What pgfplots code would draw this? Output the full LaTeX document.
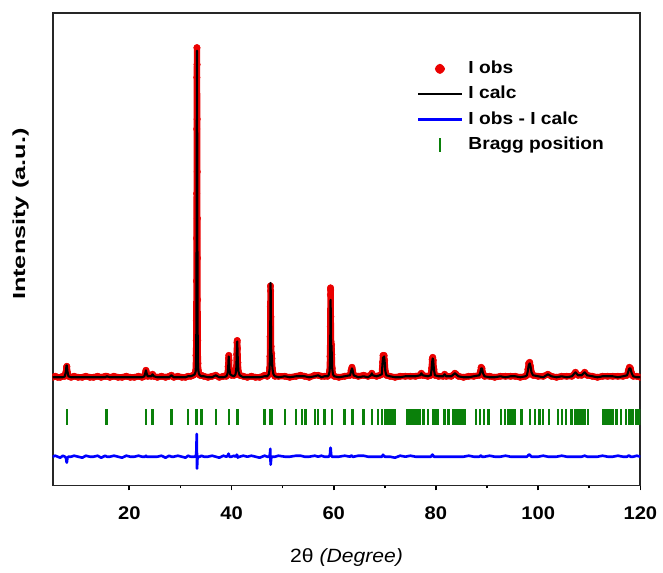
\documentclass[border=0pt]{standalone}
\usepackage{fontspec}
\setmainfont{Liberation Sans}[FakeStretch=1.1]
\newfontfamily\ylabfont{Liberation Sans}[FakeStretch=1.45]
\usepackage{pgfplots}
\usepackage{pgfplotstable}
\pgfplotsset{compat=1.18}
\definecolor{bragg}{RGB}{10,128,10}
\definecolor{obsred}{RGB}{235,0,0}

% 2theta, observed, calculated, difference (arbitrary units)
\pgfplotstableread{
x obs calc diff
5.0 109 109 29
5.5 110 109 30
6.0 109 109 29
6.5 109 109 28
7.0 110 109 30
7.4 110 110 29
7.6 114 115 28
7.72 119 121 24
7.78 120 121 23
7.9 114 115 28
8.1 110 110 29
8.6 109 109 29
9.2 110 109 30
10.0 109 109 29
10.8 109 109 28
11.5 110 109 30
12.3 109 109 29
13.0 109 109 29
13.8 110 109 30
14.5 109 109 28
15.3 110 109 30
15.6 110 110 29
16.2 109 109 29
17.0 110 109 30
17.8 109 109 29
18.6 109 109 28
19.4 110 109 30
20.2 109 109 29
21.0 109 109 29
21.8 110 109 30
22.5 109 109 29
22.95 110 110 29
23.12 113 113 29
23.26 116 116 30
23.4 113 113 29
23.6 110 110 29
24.3 110 110 29
24.55 112 112 29
24.8 110 110 29
25.5 109 109 29
26.3 110 109 30
27.1 109 109 28
27.8 110 109 30
28.25 111 111 29
28.7 109 109 29
29.5 110 109 30
30.3 109 109 29
31.0 109 109 28
31.5 110 110 30
32.0 110 110 29
32.5 111 111 29
32.8 112 112 29
33.00 116 115 30
33.06 131 129 31
33.10 146 142 33
33.12 166 160 35
33.14 206 196 39
33.16 249 234 44
33.18 294 276 47
33.20 359 339 52
33.22 411 402 40
33.24 441 438 32
33.26 424 434 17
33.28 369 380 20
33.30 316 324 22
33.32 269 274 24
33.34 229 231 27
33.36 187 188 28
33.39 146 147 28
33.43 123 124 28
33.50 116 116 29
33.60 113 113 29
33.80 111 111 29
34.11 111 110 30
34.6 110 110 29
35.4 109 109 29
36.2 110 109 30
36.92 111 111 29
37.6 109 109 28
38.4 110 109 30
39.0 110 110 29
39.25 113 113 30
39.35 120 119 31
39.42 128 127 32
39.47 131 130 32
39.52 126 126 30
39.6 117 117 29
39.75 112 112 29
40.0 111 111 29
40.5 111 110 30
40.8 112 112 29
40.95 120 119 30
41.02 132 131 31
41.08 144 143 31
41.12 146 145 30
41.17 138 138 29
41.24 124 125 28
41.35 115 115 29
41.6 111 111 29
42.3 110 109 30
43.1 109 109 29
43.9 110 109 30
44.7 109 109 29
45.5 109 109 28
46.48 111 110 30
47.0 110 110 29
47.3 112 112 29
47.45 118 117 30
47.52 130 128 32
47.56 150 146 34
47.60 180 173 37
47.63 201 204 26
47.66 196 204 21
47.70 170 176 23
47.74 140 143 26
47.80 130 130 29
47.85 133 133 29
47.90 128 128 29
48.00 118 118 29
48.2 112 112 29
48.5 110 110 29
49.2 110 109 30
50.44 110 110 29
51.4 109 109 29
52.64 110 110 30
53.5 111 110 30
54.3 110 110 29
55.2 109 109 29
56.29 111 110 30
56.94 111 111 29
57.6 110 109 30
58.18 110 110 29
58.8 110 110 29
59.0 111 111 29
59.2 116 115 30
59.28 130 127 32
59.33 160 152 36
59.36 192 180 38
59.38 199 187 38
59.40 197 186 38
59.43 170 163 35
59.47 145 141 33
59.52 140 139 30
59.57 142 141 30
59.62 132 132 29
59.70 118 118 29
59.85 112 112 29
60.1 110 110 29
61.0 109 109 29
62.15 110 110 30
63.2 111 111 29
63.4 116 115 30
63.57 119 118 30
63.7 116 116 29
63.9 111 111 29
64.8 110 109 30
65.85 111 110 30
66.7 110 109 29
67.3 111 111 29
67.45 113 113 29
67.6 111 111 29
68.4 110 110 29
69.0 111 111 29
69.4 112 112 29
69.55 124 123 30
69.65 131 129 31
69.75 129 128 30
69.85 131 130 30
69.95 126 126 29
70.1 115 115 29
70.3 111 111 29
71.0 110 110 29
72.0 109 109 28
73.0 110 109 30
74.0 110 110 29
75.0 110 110 30
76.0 110 110 29
76.9 111 111 29
77.15 113 113 29
77.4 111 111 29
78.4 110 110 29
79.0 111 111 29
79.15 118 117 30
79.27 127 125 31
79.37 129 128 31
79.47 126 126 30
79.6 117 117 29
79.8 111 111 29
80.5 110 110 29
81.4 110 110 29
81.7 112 112 29
82.0 110 110 29
83.0 110 110 29
83.7 113 113 29
83.95 112 112 29
84.4 110 110 29
85.4 109 109 29
86.4 110 109 30
87.4 110 110 29
88.5 111 111 29
88.7 115 114 30
88.85 119 118 30
89.0 118 118 29
89.2 113 113 29
89.5 110 110 29
90.5 110 109 30
91.5 109 109 29
92.6 110 110 29
93.6 110 109 30
94.6 110 110 29
95.5 110 110 29
96.5 109 109 29
97.5 110 110 29
97.8 111 111 29
98.0 117 116 30
98.15 123 121 31
98.35 124 123 31
98.5 120 120 30
98.7 114 114 29
99.0 111 111 29
100.0 110 110 29
101.0 110 109 30
101.9 112 112 29
102.6 110 110 29
103.6 109 109 29
104.6 110 110 30
105.6 110 109 29
106.6 110 110 29
107.3 114 114 29
107.8 111 111 29
108.5 111 111 29
109.1 114 114 30
109.6 111 111 29
110.6 110 110 29
111.6 109 109 29
112.6 110 110 30
113.6 110 110 29
114.6 110 110 29
115.6 110 109 30
116.6 110 110 29
117.4 111 111 29
117.65 116 115 30
117.85 119 118 30
118.05 118 118 29
118.3 113 113 29
118.6 110 110 29
119.3 110 109 30
120.0 109 109 29
}\xrd

% Bragg reflections
\pgfplotstableread{
x y
7.77 69
15.57 69
23.26 69
24.55 69
28.25 69
31.51 69
33.13 69
34.11 69
36.92 69
39.51 69
41.13 69
46.48 69
47.51 69
47.96 69
50.44 69
52.64 69
53.8 69
54.5 69
56.29 69
56.94 69
58.18 69
59.66 69
62.15 69
63.7 69
65.85 69
67.5 69
68.65 69
69.4 69
70.1 69
70.6 69
71.05 69
71.5 69
71.9 69
74.4 69
74.8 69
75.2 69
75.6 69
76.0 69
76.4 69
76.8 69
77.56 69
78.4 69
79.4 69
79.85 69
80.3 69
81.66 69
82.44 69
83.4 69
83.9 69
84.3 69
84.8 69
85.2 69
85.6 69
87.8 69
88.6 69
89.4 69
90.24 69
92.7 69
93.5 69
94.1 69
94.6 69
95.1 69
95.45 69
96.7 69
98.4 69
99.35 69
100.3 69
101.0 69
102.1 69
103.9 69
104.7 69
105.5 69
106.5 69
107.3 69
107.9 69
108.45 69
109.1 69
109.76 69
112.7 69
113.1 69
113.5 69
113.9 69
114.3 69
114.6 69
115.3 69
116.25 69
117.2 69
117.9 69
118.5 69
119.2 69
119.8 69
}\bragg

\begin{document}
\begin{tikzpicture}
\begin{axis}[
    scale only axis,
    width=11.84cm, height=9.52cm,
    xmin=5, xmax=120, ymin=0, ymax=476,
    clip marker paths=true,
    xtick={20,40,...,120},
    minor x tick num=1,
    ytick=\empty,
    xtick pos=left,
    tick align=outside,
    major tick length=0.1cm,
    minor tick length=0.06cm,
    every tick/.style={black, line width=0.9pt},
    axis line style={black!85, line width=1.1pt},
    /pgf/number format/assume math mode=true,
    xticklabel style={font=\bfseries\fontsize{10.5}{12}\selectfont, yshift=-0.2cm},
    xlabel={2θ \textit{(Degree)}},
    ylabel={\ylabfont\bfseries Intensity (a.u.)},
    every axis x label/.style={at={(axis description cs:0.5,0)}, anchor=center, yshift=-1.45cm, font=\fontsize{11}{13}\selectfont},
    every axis y label/.style={at={(axis description cs:-0.03,0.574)}, rotate=90, anchor=south, font=\fontsize{10}{12}\selectfont},
    legend style={draw=none, fill=none, at={(axis description cs:0.607,0.915)}, anchor=north west,
        font=\bfseries\fontsize{10}{12}\selectfont, row sep=0.8pt,
        nodes={inner sep=2pt, text height=7.5pt, text depth=2.2pt}},
    legend cell align=left,
]
\addplot[obsred, line width=3.6pt, line join=round, mark=*, mark size=1.9pt,
    mark options={solid, line width=0.2pt, fill=obsred},
    legend image code/.code={\path (0cm,0cm) (0.88cm,0cm); \fill[obsred] (0.44cm,0cm) circle (1.1pt);}]
    table[x=x, y=obs] {\xrd};
\addlegendentry{I obs}
\addplot[black, line width=1.2pt, line join=round,
    legend image code/.code={\draw[black, line width=1.2pt] (0cm,0cm) -- (0.88cm,0cm);}]
    table[x=x, y=calc] {\xrd};
\addlegendentry{I calc}
\addplot[blue, line width=1.5pt, line join=round,
    legend image code/.code={\draw[blue, line width=1.2pt] (0cm,0cm) -- (0.88cm,0cm);}]
    table[x=x, y=diff] {\xrd};
\addlegendentry{I obs - I calc}
\addplot[bragg, only marks, mark=|, mark size=0.16cm, mark options={line width=1.4pt},
    legend image code/.code={\path (0cm,0cm) (0.88cm,0cm); \draw[bragg, line width=1.4pt] (0.44cm,-0.14cm) -- (0.44cm,0.14cm);}]
    table[x=x, y=y] {\bragg};
\addlegendentry{Bragg position}
\end{axis}
\path ([xshift=-1.06cm, yshift=-1.56cm]current axis.south west) rectangle ([xshift=0.36cm, yshift=0.26cm]current axis.north east);
\end{tikzpicture}
\end{document}
